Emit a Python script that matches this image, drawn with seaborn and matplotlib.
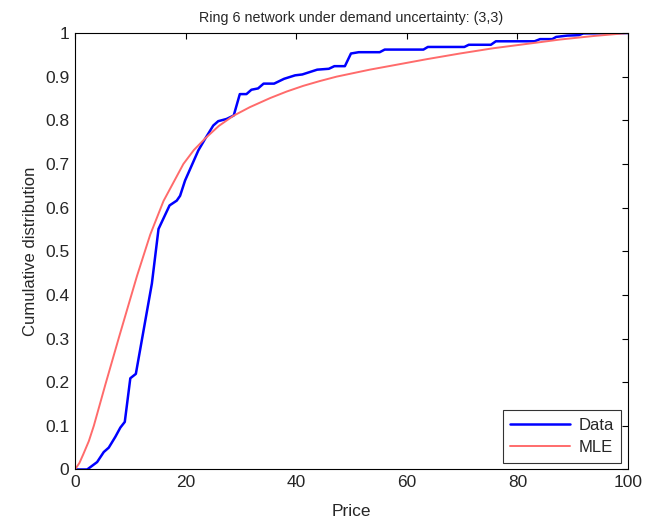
import matplotlib
matplotlib.use("Agg")
import matplotlib.pyplot as plt
import seaborn as sns
import pandas as pd

data_x = [0, 2.2, 4.0, 5.2, 6.1, 7.3, 8.2, 9.0, 10.0, 11.0, 13.9, 15.1, 17.1, 18.4,
          19.0, 19.9, 22.3, 23.5, 25.0, 25.9, 27.4, 28.7, 29.8, 31.0, 31.9, 33.1,
          34.1, 36.0, 37.8, 39.8, 41.1, 43.8, 45.9, 46.9, 48.8, 49.9, 51.3, 55.1,
          56.0, 63.0, 63.8, 70.4, 71.2, 75.2, 76.1, 83.1, 84.1, 86.3, 87.0, 89.0,
          91.1, 91.9, 100]
data_y = [0, 0, 0.017, 0.040, 0.050, 0.075, 0.096, 0.109, 0.209, 0.219, 0.426, 0.551,
          0.605, 0.616, 0.627, 0.662, 0.731, 0.757, 0.788, 0.798, 0.803, 0.811, 0.860,
          0.860, 0.870, 0.873, 0.884, 0.884, 0.895, 0.903, 0.905, 0.916, 0.918, 0.924,
          0.924, 0.953, 0.956, 0.956, 0.962, 0.962, 0.968, 0.968, 0.973, 0.973, 0.981,
          0.981, 0.986, 0.986, 0.991, 0.994, 0.995, 0.999, 1.0]

# fitted MLE CDF
mle_x = [0, 0.8, 1.5, 2.5, 3.4, 5.5, 8.0, 11.2, 13.6, 16.0, 19.6, 21.5, 23.5, 26.0,
         28.6, 31.6, 35.3, 38.3, 41.3, 44.3, 47.3, 50.3, 53.3, 57.6, 63.6, 69.6,
         75.6, 81.7, 87.7, 93.7, 100]
mle_y = [0, 0.015, 0.035, 0.065, 0.10, 0.195, 0.305, 0.443, 0.538, 0.615, 0.700,
         0.732, 0.758, 0.787, 0.810, 0.830, 0.851, 0.866, 0.879, 0.890, 0.900, 0.908,
         0.916, 0.926, 0.940, 0.953, 0.965, 0.975, 0.985, 0.993, 1.0]

sns.set_style("white")
plt.rcParams['font.family'] = ['Liberation Sans', 'DejaVu Sans']

fig = plt.figure(figsize=(6.5, 5.22), dpi=100)
ax = fig.add_axes([0.1154, 0.1006, 0.8508, 0.8362])

df_data = pd.DataFrame({'x': data_x, 'y': data_y})
df_mle = pd.DataFrame({'x': mle_x, 'y': mle_y})

sns.lineplot(data=df_data, x='x', y='y', ax=ax, sort=False, estimator=None,
             color='#0000ff', linewidth=1.8, label='Data')
sns.lineplot(data=df_mle, x='x', y='y', ax=ax, sort=False, estimator=None,
             color='#ff6b6b', linewidth=1.4, label='MLE')

ax.set_xlim(0, 100)
ax.set_ylim(0, 1)
ax.set_xticks([0, 20, 40, 60, 80, 100])
ax.set_yticks([i / 10 for i in range(11)])
ax.set_yticklabels(['0'] + ['0.%d' % i for i in range(1, 10)] + ['1'])
ax.tick_params(direction='in', top=True, right=True, length=4.3, width=0.8,
               labelsize=12.5, color='black')
ax.tick_params(axis='x', pad=4)
ax.tick_params(axis='y', pad=4)
for s in ax.spines.values():
    s.set_color('black')
    s.set_linewidth(0.8)

ax.set_xlabel('Price', fontsize=12.5, labelpad=10)
ax.set_ylabel('Cumulative distribution', fontsize=12, labelpad=5)
ax.set_title('Ring 6 network under demand uncertainty: (3,3)', fontsize=10.3, pad=8)

leg = ax.legend(loc='lower right', fontsize=12, frameon=True, fancybox=False,
                borderaxespad=0.4, handlelength=3.6, borderpad=0.45, labelspacing=0.45,
                handletextpad=0.5)
leg.get_frame().set_edgecolor('black')
leg.get_frame().set_linewidth(0.8)

plt.savefig('out.png', dpi=100)
